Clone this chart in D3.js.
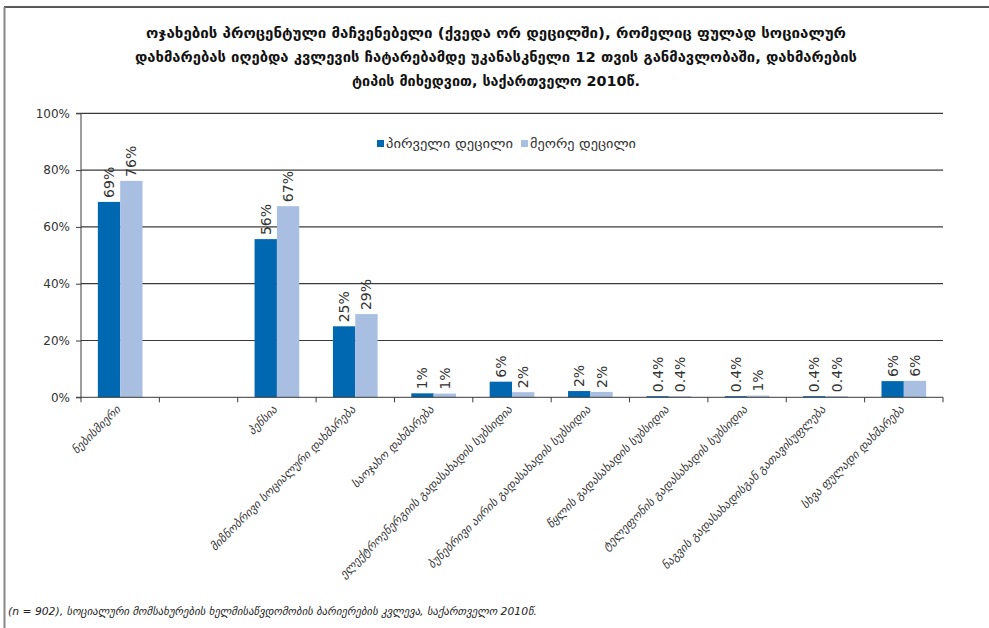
<!DOCTYPE html>
<html><head><meta charset="utf-8">
<script src="https://cdn.jsdelivr.net/npm/d3@7"></script>
<style>
html,body{margin:0;padding:0;background:#fff;}
svg{display:block;}
</style></head>
<body>
<svg id="chart" width="989" height="628"></svg>
<script>
const titleLines = [
  "ოჯახების პროცენტული მაჩვენებელი (ქვედა ორ დეცილში), რომელიც ფულად სოციალურ",
  "დახმარებას იღებდა კვლევის ჩატარებამდე უკანასკნელი 12 თვის განმავლობაში, დახმარების",
  "ტიპის მიხედვით, საქართველო 2010წ."
];
const categories = [
  "ნებისმიერი",
  "",
  "პენსია",
  "მიზნობრივი სოციალური დახმარება",
  "საოჯახო დახმარება",
  "ელექტროენერგიის გადასახადის სუბსიდია",
  "ბუნებრივი აირის გადასახადის სუბსიდია",
  "წყლის გადასახადის სუბსიდია",
  "ტელეფონის გადასახადის სუბსიდია",
  "ნაგვის გადასახადისგან გათავისუფლება",
  "სხვა ფულადი დახმარება"
];
const seriesNames = ["პირველი დეცილი", "მეორე დეცილი"];
const decile1 = [68.8, null, 55.7, 25.0, 1.4, 5.5, 2.2, 0.4, 0.4, 0.4, 5.7];
const decile2 = [76.2, null, 67.3, 29.3, 1.3, 1.8, 1.9, 0.4, 0.6, 0.4, 5.8];
const labels1 = ["69%", "", "56%", "25%", "1%", "6%", "2%", "0.4%", "0.4%", "0.4%", "6%"];
const labels2 = ["76%", "", "67%", "29%", "1%", "2%", "2%", "0.4%", "1%", "0.4%", "6%"];
const yTicks = [0, 20, 40, 60, 80, 100];
const footnote = "(n = 902), სოციალური მომსახურების ხელმისაწვდომობის ბარიერების კვლევა, საქართველო 2010წ.";

const colors = ["#0067B1", "#A9BFE1"];
const svg = d3.select("#chart");
const W = 989, H = 628;

// frame
svg.append("line").attr("x1", 4).attr("x2", W).attr("y1", 7).attr("y2", 7)
  .attr("stroke", "#222").attr("stroke-width", 1.5);
svg.append("line").attr("x1", 4.5).attr("x2", 4.5).attr("y1", 7).attr("y2", H)
  .attr("stroke", "#888").attr("stroke-width", 2);

// title
const titleWidths = [700, 722, 288];
const title = svg.append("text").attr("text-anchor", "middle")
  .style("font-family", "'DejaVu Sans','DejaVu Sans Condensed',sans-serif")
  .style("font-weight", "bold").style("font-size", "14.5px").attr("fill", "#111");
titleLines.forEach((t, i) => {
  title.append("tspan").attr("x", 496).attr("y", 38 + i * 24)
    .attr("textLength", titleWidths[i]).attr("lengthAdjust", "spacingAndGlyphs").text(t);
});

const x0 = 81, x1 = 943, yTop = 113.3, yBot = 397.3;
const x = d3.scaleBand().domain(d3.range(categories.length)).range([x0, x1])
  .paddingInner(0.43).paddingOuter(0.215);
const xs = d3.scaleBand().domain([0, 1]).range([0, x.bandwidth()]);
const y = d3.scaleLinear().domain([0, 100]).range([yBot, yTop]);

// gridlines
svg.append("g").selectAll("line").data(yTicks.filter(d => d > 0)).join("line")
  .attr("x1", x0).attr("x2", x1).attr("y1", d => y(d)).attr("y2", d => y(d))
  .attr("stroke", "#3a3a3a").attr("stroke-width", 1.2);

// y axis
const yAxis = d3.axisLeft(y).tickValues(yTicks).tickFormat(d => d + "%").tickSize(5).tickPadding(6);
const gy = svg.append("g").attr("transform", `translate(${x0},0)`).call(yAxis);
gy.select(".domain").attr("stroke", "#3a3a3a").attr("d", `M-5,${yTop}H0V${yBot}H-5`);
gy.selectAll(".tick line").attr("stroke", "#3a3a3a");
gy.selectAll(".tick text").style("font-family", "'DejaVu Sans',sans-serif")
  .style("font-size", "12px").attr("fill", "#333");

// bars
const series = [decile1, decile2];
const lbls = [labels1, labels2];
series.forEach((vals, s) => {
  const data = vals.map((v, i) => ({ i, v, l: lbls[s][i] })).filter(d => d.v !== null);
  svg.append("g").selectAll("rect").data(data).join("rect")
    .attr("x", d => x(d.i) + xs(s)).attr("width", xs.bandwidth())
    .attr("y", d => y(d.v)).attr("height", d => y(0) - y(d.v))
    .attr("fill", colors[s]);
  svg.append("g").selectAll("text").data(data).join("text")
    .attr("transform", d => `translate(${x(d.i) + xs(s) + xs.bandwidth() / 2 + 5},${y(d.v) - 4}) rotate(-90)`)
    .attr("text-anchor", "start")
    .style("font-family", "'DejaVu Sans',sans-serif").style("font-size", "14px")
    .attr("fill", "#333").text(d => d.l);
});

// x axis
const xAxisG = svg.append("g").attr("transform", `translate(0,${yBot})`);
xAxisG.append("line").attr("x1", x0).attr("x2", x1).attr("y1", 0).attr("y2", 0).attr("stroke", "#3a3a3a");
const step = x.step();
const boundaries = d3.range(categories.length + 1).map(i => x0 + i * step);
xAxisG.selectAll("line.tk").data(boundaries).join("line").attr("class", "tk")
  .attr("x1", d => d).attr("x2", d => d).attr("y1", 0).attr("y2", 5).attr("stroke", "#3a3a3a");
xAxisG.selectAll("text").data(categories.map((c, i) => ({ c, i }))).join("text")
  .attr("transform", d => `translate(${x(d.i) + x.bandwidth() / 2 + 1},${13}) rotate(-45)`)
  .attr("text-anchor", "end")
  .style("font-family", "'DejaVu Sans',sans-serif").style("font-style", "italic")
  .style("font-size", "11.5px").attr("fill", "#333").text(d => d.c);

// legend
const legendX = [377, 521];
const legendW = [127, 106];
seriesNames.forEach((n, i) => {
  const g = svg.append("g").attr("transform", `translate(${legendX[i]},140)`);
  g.append("rect").attr("width", 7).attr("height", 7).attr("fill", colors[i]);
  g.append("text").attr("x", 9).attr("y", 8)
    .attr("textLength", legendW[i]).attr("lengthAdjust", "spacingAndGlyphs")
    .style("font-family", "'DejaVu Sans',sans-serif").style("font-size", "13px")
    .attr("fill", "#333").text(n);
});

// footnote
svg.append("text").attr("x", 8).attr("y", 615)
  .attr("textLength", 529).attr("lengthAdjust", "spacingAndGlyphs")
  .style("font-family", "'DejaVu Sans',sans-serif").style("font-style", "italic")
  .style("font-size", "10px").attr("fill", "#222").text(footnote);
</script>
</body></html>
